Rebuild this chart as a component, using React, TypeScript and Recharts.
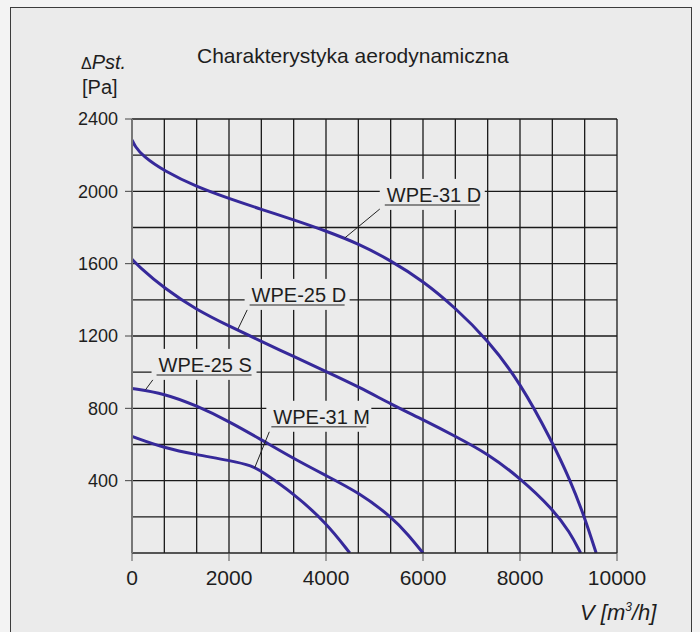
import { LineChart, Line, XAxis, YAxis, ReferenceLine, ReferenceDot } from 'recharts';

// fan curves: flow V [m3/h] vs static pressure [Pa]
const flow31D = [0, 60, 220, 670, 1330, 2000, 2670, 3330, 4000, 4690, 5330, 6000, 6670, 7330, 8000, 8670, 9030, 9330, 9570];
const pressure31D = [2284, 2250, 2195, 2111, 2025, 1960, 1900, 1843, 1781, 1708, 1618, 1505, 1355, 1179, 945, 612, 405, 200, 0];

const flow25D = [0, 120, 670, 1330, 2000, 2670, 3330, 4000, 4690, 5350, 6000, 6670, 7340, 8000, 8670, 9030, 9250];
const pressure25D = [1625, 1590, 1462, 1345, 1255, 1170, 1087, 1004, 917, 822, 737, 645, 548, 415, 245, 115, 0];

const flow25S = [0, 670, 1330, 2000, 2670, 3330, 4000, 4690, 5350, 5700, 6000];
const pressure25S = [910, 882, 815, 728, 626, 522, 428, 332, 200, 100, 0];

const flow31M = [0, 670, 1340, 2010, 2490, 2670, 3320, 4010, 4490];
const pressure31M = [645, 580, 543, 512, 482, 451, 332, 166, 0];

const flowTicks = [0, 2000, 4000, 6000, 8000, 10000];
const pressureTicks = [400, 800, 1200, 1600, 2000, 2400];
const flowGrid = Array.from({ length: 16 }, (_, i) => (i * 10000) / 15);
const pressureGrid = Array.from({ length: 12 }, (_, i) => (i + 1) * 200);

// curve labels and where their leader lines touch the curves
const labelNames = ['WPE-31 D', 'WPE-25 D', 'WPE-25 S', 'WPE-31 M'];
const labelFlow = [5212, 2425, 506, 2873];
const labelPressure = [1925, 1372, 985, 698];
const leaderFlow = [4386, 2184, 279, 2528];
const leaderPressure = [1742, 1238, 903, 470];

const toPoints = (flow: number[], pressure: number[]) => flow.map((f, i) => ({ flow: f, pressure: pressure[i] }));
const curves = [
  toPoints(flow31D, pressure31D),
  toPoints(flow25D, pressure25D),
  toPoints(flow25S, pressure25S),
  toPoints(flow31M, pressure31M),
];

const FONT = '"Liberation Sans", Arial, sans-serif';
const BG = '#ebebeb';
const INK = '#1e1e1e';
const CURVE = '#36299a';

function LabelTag({ cx, cy, text }: { cx: number; cy: number; text: string }) {
  const w = 95;
  return (
    <g>
      <rect x={cx - 5} y={cy - 26} width={w + 10} height={31} fill={BG} />
      <text x={cx + 2} y={cy - 3} fontSize={20} fontFamily={FONT} fill={INK}>
        {text}
      </text>
      <line x1={cx} x2={cx + w} y1={cy} y2={cy} stroke="#666" strokeWidth={1.5} />
    </g>
  );
}

export default function App() {
  return (
    <div style={{ position: 'absolute', left: 0, top: 0, width: 700, height: 632, background: '#f3f3f3', overflow: 'hidden' }}>
      <div
        style={{
          position: 'absolute',
          left: 10,
          top: 7,
          width: 680,
          height: 640,
          border: '1px solid #3c3c3c',
          background: BG,
        }}
      />
      <div style={{ position: 'absolute', left: 0, top: 0 }}>
        <LineChart width={700} height={632} margin={{ top: 119, right: 83, bottom: 39, left: 72 }}>
          {flowGrid.map((v) => (
            <ReferenceLine key={'gx' + v} x={v} stroke="#1a1a1a" strokeWidth={1.3} />
          ))}
          {pressureGrid.map((v) => (
            <ReferenceLine key={'gy' + v} y={v} stroke="#1a1a1a" strokeWidth={1.3} />
          ))}
          <XAxis
            dataKey="flow"
            type="number"
            domain={[0, 10000]}
            ticks={flowTicks}
            allowDataOverflow
            height={40}
            tickSize={8}
            tickMargin={9}
            tick={{ fill: INK, fontSize: 21, fontFamily: FONT }}
            axisLine={{ stroke: '#222', strokeWidth: 1.3 }}
            tickLine={{ stroke: '#555' }}
          />
          <YAxis
            type="number"
            domain={[0, 2400]}
            ticks={pressureTicks}
            allowDataOverflow
            width={60}
            tickSize={7}
            tickMargin={7}
            tick={{ fill: INK, fontSize: 18, fontFamily: FONT }}
            axisLine={{ stroke: '#777', strokeWidth: 2 }}
            tickLine={{ stroke: '#444' }}
          />
          {curves.map((data, i) => (
            <Line
              key={labelNames[i]}
              data={data}
              dataKey="pressure"
              type="basis"
              stroke={CURVE}
              strokeWidth={3}
              dot={false}
              activeDot={false}
              isAnimationActive={false}
            />
          ))}
          {labelNames.map((name, i) => (
            <ReferenceLine
              key={'leader' + name}
              segment={[
                { x: leaderFlow[i], y: leaderPressure[i] },
                { x: labelFlow[i], y: labelPressure[i] },
              ]}
              stroke="#222"
              strokeWidth={1}
            />
          ))}
          {labelNames.map((name, i) => (
            <ReferenceDot
              key={'tag' + name}
              x={labelFlow[i]}
              y={labelPressure[i]}
              shape={(p: any) => <LabelTag cx={p.cx} cy={p.cy} text={name} />}
            />
          ))}
        </LineChart>
      </div>
      <svg width={700} height={632} style={{ position: 'absolute', left: 0, top: 0, pointerEvents: 'none' }}>
        <text x={197} y={63} fontSize={21} fontFamily={FONT} fill={INK}>
          Charakterystyka aerodynamiczna
        </text>
        <text x={81} y={69} fontFamily={FONT} fill={INK}>
          <tspan fontSize={16}>Δ</tspan>
          <tspan fontSize={20} fontStyle="italic">Pst.</tspan>
        </text>
        <text x={82} y={94} fontSize={20} fontFamily={FONT} fill={INK}>
          [Pa]
        </text>
        <text x={580} y={620} fontSize={22} fontFamily={FONT} fill={INK} fontStyle="italic">
          V [m<tspan fontSize={12} dy={-9}>3</tspan>
          <tspan dy={9}>/h]</tspan>
        </text>
      </svg>
    </div>
  );
}
